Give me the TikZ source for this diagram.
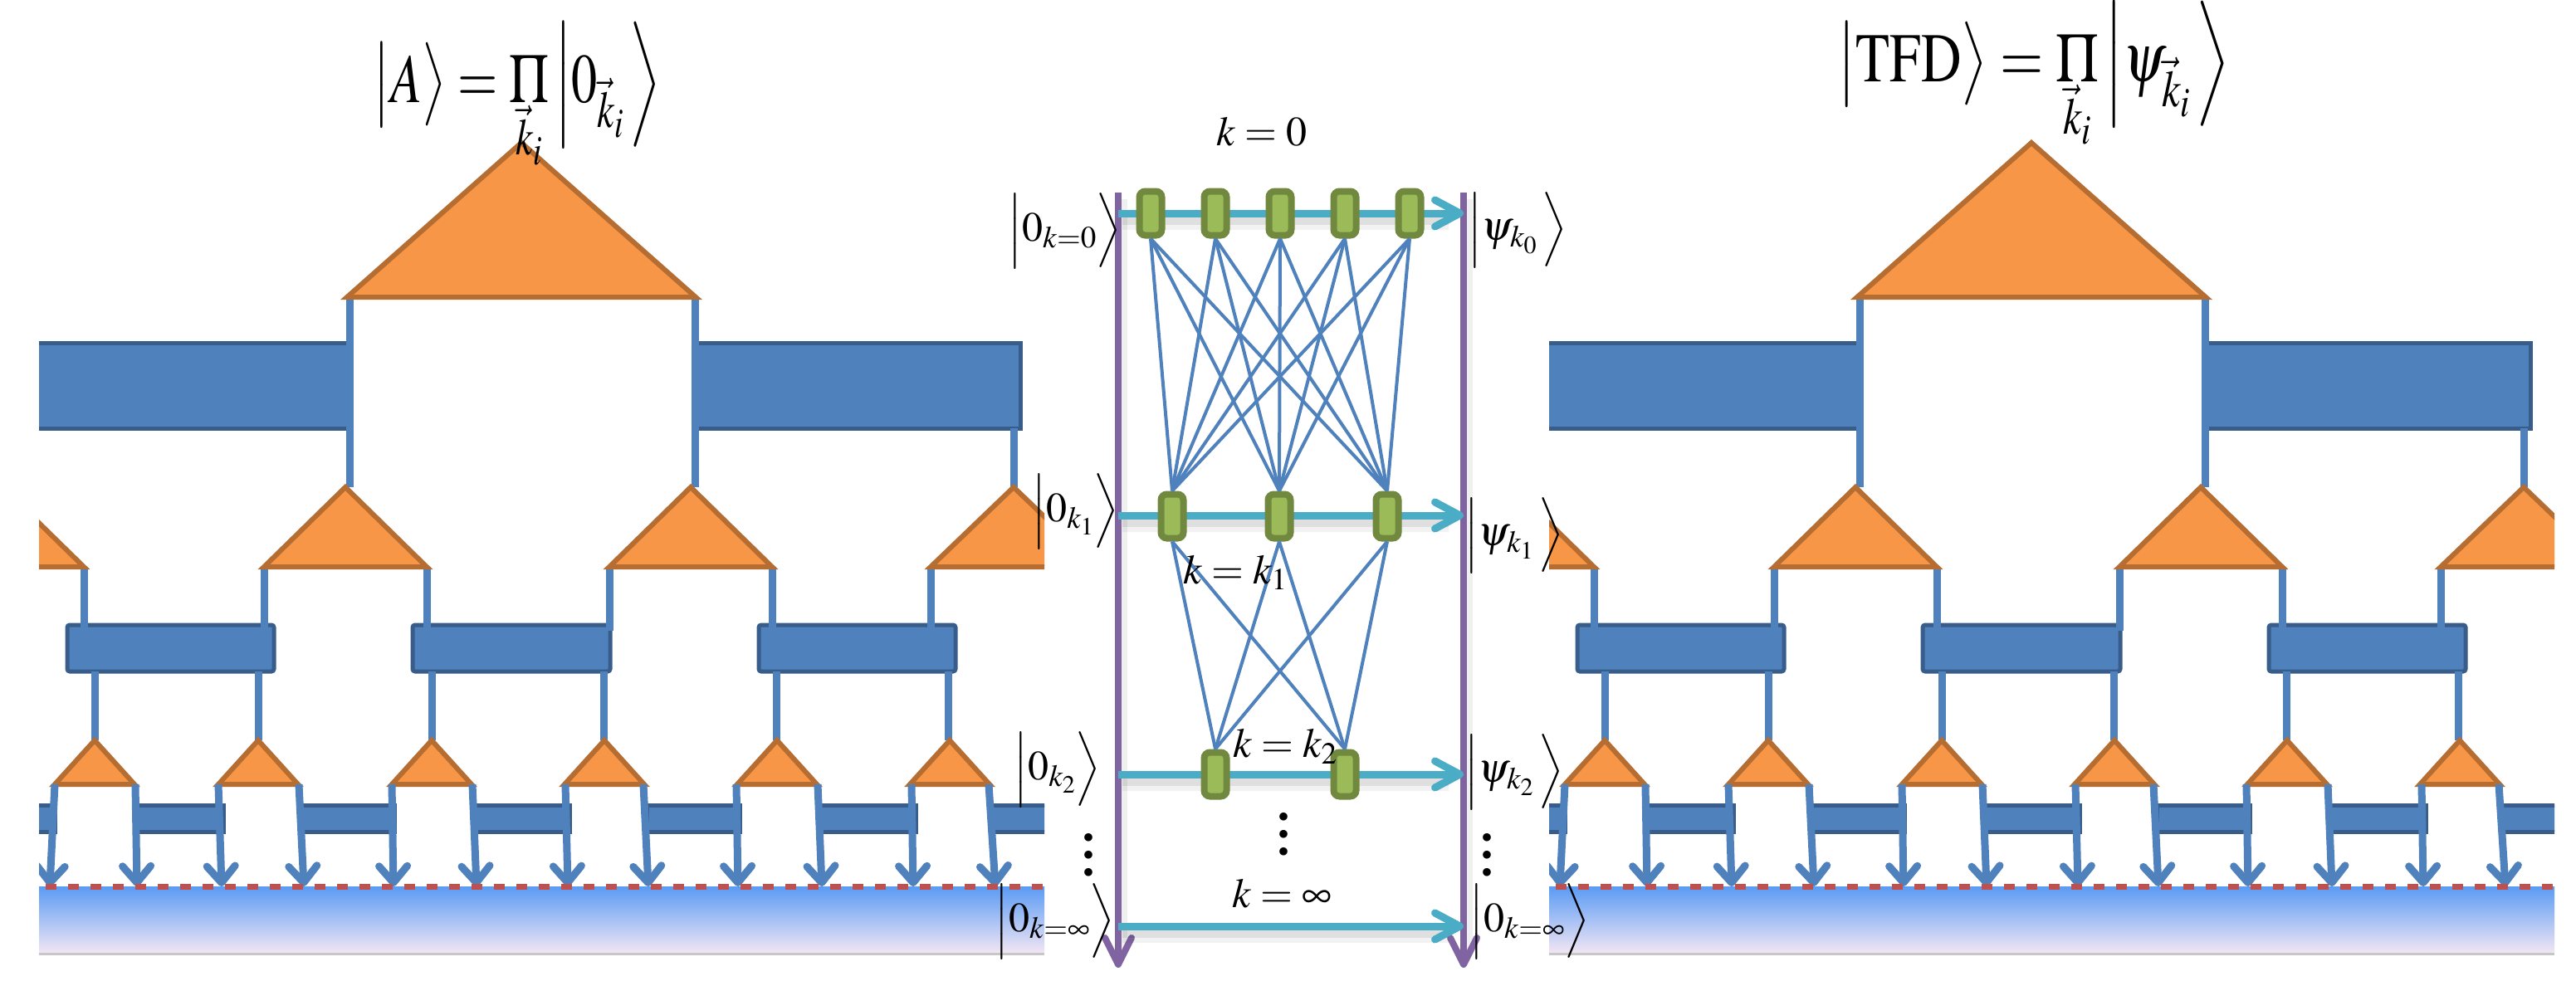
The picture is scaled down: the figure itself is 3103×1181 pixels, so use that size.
\documentclass[tikz,border=0pt]{standalone}
\usepackage{mathptmx}
\usepackage{graphicx}
\usetikzlibrary{arrows.meta}
\definecolor{mblue}{HTML}{4F81BD}
\definecolor{mbluedark}{HTML}{385D8A}
\definecolor{morange}{HTML}{F79646}
\definecolor{morangedark}{HTML}{B66D31}
\definecolor{mgreen}{HTML}{9BBB59}
\definecolor{mgreendark}{HTML}{71893F}
\definecolor{mcyan}{HTML}{4BACC6}
\definecolor{mpurple}{HTML}{8064A2}
\definecolor{mred}{HTML}{C0504D}
\definecolor{gradtop}{HTML}{5A9BF4}
\definecolor{gradmid}{HTML}{86C2FF}
\definecolor{gradbot}{HTML}{F2E6F4}
\tikzset{
  tri/.style={fill=morange, draw=morangedark, line width=6pt},
  blk/.style={fill=mblue, draw=mbluedark, line width=5pt},
  leg/.style={draw=mblue, line width=9pt},
  legarrow/.style={leg, -{Straight Barb[length=20pt,width=34pt,round]}},
  net/.style={draw=mblue, line width=4pt},
  gbox/.style={draw=mgreendark, fill=mgreen, line width=8pt, rounded corners=7pt,
    minimum width=27pt, minimum height=53pt, inner sep=0pt},
  flow/.style={draw=mcyan, line width=9pt, -{Straight Barb[length=30pt,width=32pt,round]}},
  axisline/.style={draw=mpurple, line width=8pt, -{Straight Barb[length=32pt,width=32pt,round]}},
  lbl/.style={inner sep=0pt, font=\fontsize{50}{60}\selectfont},
  dotlbl/.style={inner sep=0pt, font=\fontsize{25}{21}\selectfont},
  ttl/.style={inner sep=0pt, anchor=base, font=\fontsize{84}{100}\selectfont},
}
\newcommand\mtri[4]{\filldraw[tri] (#1,#2) -- ({#1-#3},#4) -- ({#1+#3},#4) -- cycle;}
\newcommand\legarr[2]{\draw[legarrow] (#1,945) -- (#2,1068);}
\newcommand\zstrut{\rule[-0.42em]{0pt}{1.34em}}
\newcommand\pstrut{\rule[-0.52em]{0pt}{1.62em}}
\newcommand\tstrutA{\rule[-0.3em]{0pt}{1.03em}}
\newcommand\tstrutB{\rule[-0.52em]{0pt}{1.48em}}
\newcommand\prodsub[1]{\mathop{\vtop{\offinterlineskip
  \setbox0=\hbox{$\Pi$}\copy0 \kern4pt
  \hbox to \wd0{\hss$\scriptstyle#1$\hss}}}}
\newcommand\vdotsbig{\vbox{\baselineskip=21pt\lineskip=0pt\lineskiplimit=-100pt
  \hbox{$\bullet$}\hbox{$\bullet$}\hbox{$\bullet$}}}
\newcommand\meraPanel{%
\begin{scope}
\clip (47,150) rectangle (1258,1165);
\shade[top color=gradtop,middle color=gradmid,bottom color=gradbot] (47,1068) rectangle (1258,1148);
\draw[line width=3pt,draw=black!22] (47,1149.5) -- (1258,1149.5);
% rectangles
\filldraw[blk] (0,413) rectangle (419,516);
\filldraw[blk] (839,413) rectangle (1229,516);
\filldraw[blk,rounded corners=3pt] (81,753) rectangle (330,809);
\filldraw[blk,rounded corners=3pt] (497,753) rectangle (735,809);
\filldraw[blk,rounded corners=3pt] (914,753) rectangle (1151,809);
\foreach \a/\b in {-60/66,162/269,362/475,570/686,779/891,986/1103,1194/1310}
  {\filldraw[blk] (\a,970) rectangle (\b,1002);}
% legs
\draw[leg] (421,358) -- (421,587);
\draw[leg] (837,358) -- (837,587);
\draw[leg] (1221,516) -- (1221,587);
\foreach \x in {101,318,514,734,930,1121} {\draw[leg] (\x,683) -- (\x,760);}
\foreach \x in {114,311,520,727,935,1142} {\draw[leg] (\x,809) -- (\x,892);}
% triangles
\mtri{628}{172}{210}{358}
\mtri{3}{587}{98}{683}
\mtri{416}{587}{98}{683}
\mtri{832}{587}{98}{683}
\mtri{1221}{587}{100}{683}
\foreach \x in {114,311,520,728,936,1144} {\mtri{\x}{892}{48}{945}}
% arrows to the boundary
\legarr{66}{60}\legarr{163}{165}\legarr{263}{267}\legarr{360}{366}
\legarr{472}{474}\legarr{569}{574}\legarr{681}{684}\legarr{775}{781}
\legarr{887}{889}\legarr{985}{990}\legarr{1098}{1100}\legarr{1191}{1199}
\draw[mred, line width=7pt, dash pattern=on 13pt off 14pt, dash phase=19pt] (47,1068) -- (1258,1068);
\end{scope}}
\begin{document}
\begin{tikzpicture}[x=1pt,y=-1pt]
\useasboundingbox (0,0) rectangle (3103,1181);
\fill[white] (0,0) rectangle (3103,1181);
% left and right panels
\meraPanel
\begin{scope}[shift={(1819,0)}]\meraPanel\end{scope}
% central axes
\coordinate (pl0) at (1347,232); \coordinate (pl1) at (1347,1166);
\coordinate (pr0) at (1763,232); \coordinate (pr1) at (1763,1166);
\draw[line width=12pt, black, opacity=0.06] (1352,240) -- (1352,1150);
\draw[line width=12pt, black, opacity=0.06] (1768,240) -- (1768,1150);
\draw[axisline] (pl0) -- (pl1);
\draw[axisline] (pr0) -- (pr1);
% flows
\foreach \y/\n in {257/0,621/1,933/2,1116/3} {
  \coordinate (fs\n) at (1347,\y);
  \coordinate (fe\n) at (1763,\y);
  \draw[line width=18pt, black, opacity=0.05] (1352,\y+11) -- (1745,\y+11);
  \draw[line width=9pt, black, opacity=0.08] (1352,\y+9) -- (1745,\y+9);
  \draw[flow] (fs\n) -- (fe\n);
}
% green boxes
\node[gbox] (g00) at (1386,257) {};
\node[gbox] (g01) at (1464,257) {};
\node[gbox] (g02) at (1542,257) {};
\node[gbox] (g03) at (1620,257) {};
\node[gbox] (g04) at (1698,257) {};
\node[gbox] (g10) at (1412,622) {};
\node[gbox] (g11) at (1541,622) {};
\node[gbox] (g12) at (1671,622) {};
\node[gbox] (g20) at (1464,933) {};
\node[gbox] (g21) at (1620,933) {};
\foreach \i in {0,...,4} {\foreach \j in {0,1,2} {\draw[net] (g0\i.south) -- (g1\j.north);}}
\foreach \i in {0,1,2} {\foreach \j in {0,1} {\draw[net] (g1\i.south) -- (g2\j.north);}}
% labels
\node[lbl] (l0) at (1520,159) {$k=0$};
\node[lbl] (l1) at (1488,690) {$k=k_1$};
\node[lbl] (l2) at (1548,899) {$k=k_2$};
\node[lbl] (li) at (1544,1077) {$k=\infty$};
\node[lbl] (z0) at (1283,278) {$\left|\zstrut0_{k=0}\right\rangle$};
\node[lbl] (p0) at (1828,277) {$\left|\pstrut\psi_{k_0}\,\right\rangle$};
\node[lbl] (z1) at (1296,616) {$\left|\pstrut0_{k_1}\right\rangle$};
\node[lbl] (p1) at (1824,645) {$\left|\pstrut\psi_{k_1}\,\right\rangle$};
\node[lbl] (z2) at (1274,927) {$\left|\pstrut0_{k_2}\right\rangle$};
\node[lbl] (p2) at (1824,930) {$\left|\pstrut\psi_{k_2}\,\right\rangle$};
\node[lbl] (zi) at (1271,1110) {$\left|\zstrut0_{k=\infty}\right\rangle$};
\node[lbl] (zj) at (1843,1110) {$\left|\zstrut0_{k=\infty}\right\rangle$};
\node[dotlbl] (d0) at (1546,1006) {\vdotsbig};
\node[dotlbl] (d1) at (1311,1031) {\vdotsbig};
\node[dotlbl] (d2) at (1791,1031) {\vdotsbig};
% titles
\node[ttl] (tA) at (623,123) {\scalebox{0.74}[1]{$\left|\tstrutA A\right\rangle=\prodsub{\vec{k}_i}\left|\tstrutB 0_{\vec{k}_i}\,\right\rangle$}};
\node[ttl] (tT) at (2450,98) {\scalebox{0.8}[1]{$\left|\tstrutA\mathrm{TFD}\right\rangle=\prodsub{\vec{k}_i}\left|\tstrutB\psi_{\vec{k}_i}\,\right\rangle$}};
\end{tikzpicture}
\end{document}
